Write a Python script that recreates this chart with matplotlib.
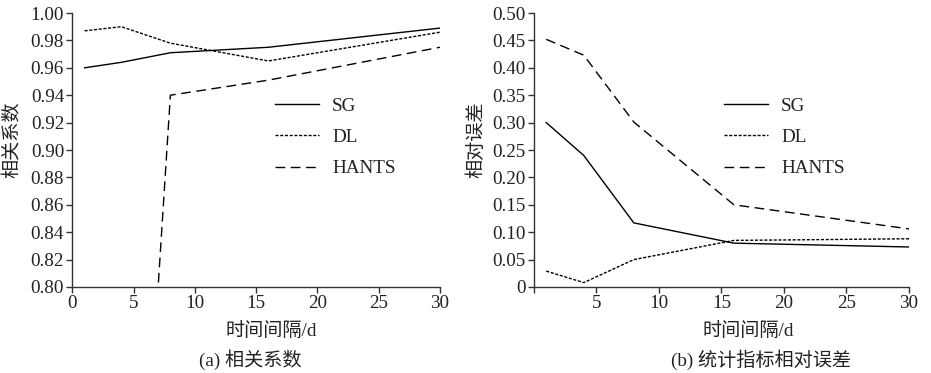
import matplotlib
matplotlib.use("Agg")
import matplotlib.pyplot as plt

plt.rcParams['font.family'] = ['Liberation Serif', 'Noto Sans CJK SC']
plt.rcParams['axes.unicode_minus'] = False

# 时间间隔 (d)
x_days = [1, 4, 8, 16, 30]

# (a) 相关系数
r_sg = [0.960, 0.964, 0.971, 0.975, 0.989]
r_dl = [0.987, 0.990, 0.978, 0.965, 0.986]
r_hants = [0.35, 0.38, 0.940, 0.951, 0.975]

# (b) 统计指标相对误差
e_sg = [0.300, 0.240, 0.117, 0.080, 0.073]
e_dl = [0.029, 0.008, 0.050, 0.085, 0.088]
e_hants = [0.452, 0.423, 0.301, 0.150, 0.106]

labels = ['SG', 'DL', 'HANTS']
styles = [dict(linestyle='-'),
          dict(linestyle=(0, (2.2, 1.2))),
          dict(linestyle=(0, (7, 4)))]

fs = 13.8
txt = '#222222'

fig = plt.figure(figsize=(9.31, 3.73), dpi=100)
ax1 = fig.add_axes([0.0777, 0.2306, 0.3949, 0.7345])
ax2 = fig.add_axes([0.5733, 0.2306, 0.4031, 0.7345])

def style_axes(ax):
    for s in ['top', 'right']:
        ax.spines[s].set_visible(False)
    for s in ['left', 'bottom']:
        ax.spines[s].set_color('#333333')
        ax.spines[s].set_linewidth(1.0)
    ax.tick_params(direction='out', length=4, width=1.0, color='#333333',
                   labelsize=fs, labelcolor=txt, pad=2)

leg_kw = dict(frameon=False, fontsize=fs, handlelength=2.3, labelspacing=0.72,
              handletextpad=0.7, loc='upper left', labelcolor=txt)

# (a)
for ys, lab, st in zip([r_sg, r_dl, r_hants], labels, styles):
    ax1.plot(x_days, ys, color='black', lw=1.0, label=lab, **st)
ax1.set_xlim(0, 30)
ax1.set_ylim(0.80, 1.00)
ax1.set_xticks(range(0, 31, 5))
ax1.set_yticks([0.80 + 0.02 * i for i in range(11)])
ax1.set_yticklabels([f'{0.80 + 0.02 * i:.2f}' for i in range(11)])
style_axes(ax1)
ax1.legend(bbox_to_anchor=(0.503, 0.755), **leg_kw)

# (b)
for ys, lab, st in zip([e_sg, e_dl, e_hants], labels, styles):
    ax2.plot(x_days, ys, color='black', lw=1.0, label=lab, **st)
ax2.set_xlim(0, 30)
ax2.set_ylim(0, 0.50)
ax2.set_xticks(range(0, 31, 5))
ax2.set_xticklabels([''] + [str(v) for v in range(5, 31, 5)])
ax2.set_yticks([0.05 * i for i in range(11)])
ax2.set_yticklabels(['0'] + [f'{0.05 * i:.2f}' for i in range(1, 11)])
style_axes(ax2)
ax2.legend(bbox_to_anchor=(0.46, 0.755), **leg_kw)

# axis labels and captions
fig.text(13 / 931, 1 - 140 / 373, '相关系数', rotation=90, ha='center', va='center',
         fontsize=fs, color=txt)
fig.text(476 / 931, 1 - 140 / 373, '相对误差', rotation=90, ha='center', va='center',
         fontsize=fs, color=txt)
fig.text(271 / 931, 1 - 331 / 373, '时间间隔/d', ha='center', va='center',
         fontsize=fs, color=txt)
fig.text(748 / 931, 1 - 331 / 373, '时间间隔/d', ha='center', va='center',
         fontsize=fs, color=txt)
fig.text(250 / 931, 1 - 360 / 373, '(a) 相关系数', ha='center', va='center',
         fontsize=fs, color=txt)
fig.text(761 / 931, 1 - 360 / 373, '(b) 统计指标相对误差', ha='center', va='center',
         fontsize=fs, color=txt)

fig.savefig('out.png', dpi=100, facecolor='white')
